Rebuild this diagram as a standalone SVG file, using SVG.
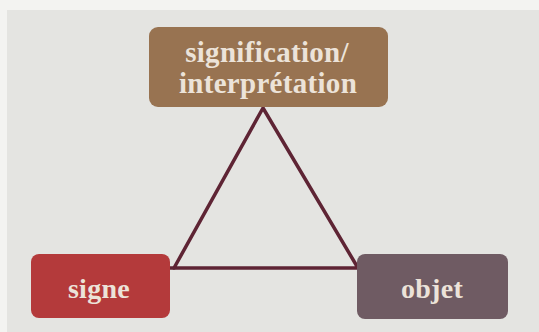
<svg xmlns="http://www.w3.org/2000/svg" width="539" height="332" viewBox="0 0 539 332">
<style>
.lbl{font-family:"Liberation Serif","DejaVu Serif",serif;font-weight:bold;font-size:28px;fill:#ece3d9;text-anchor:middle;letter-spacing:0.3px}
.big{font-size:29px}
.edge{stroke:#5e2434;stroke-width:3.5;fill:none;stroke-linecap:round;stroke-linejoin:round}
</style>
<rect width="539" height="332" fill="#f3f3f1"/>
<rect x="7" y="10" width="532" height="322" fill="#e4e4e1"/>
<g id="connectors">
<polygon class="edge" points="263,108 174,268 358,268"/>
<line class="edge" x1="170" y1="268" x2="174" y2="268"/>
</g>
<g id="node-signification">
<rect x="149" y="27" width="239" height="80" rx="9" fill="#987351"/>
<text class="lbl big" x="267" y="62">signification/</text>
<text class="lbl big" x="268" y="93">interprétation</text>
</g>
<g id="node-signe">
<rect x="31" y="254" width="139" height="64" rx="8" fill="#b43a3b"/>
<text class="lbl" x="99" y="298">signe</text>
</g>
<g id="node-objet">
<rect x="357" y="254" width="151" height="65" rx="8" fill="#6f5b63"/>
<text class="lbl" x="432" y="298">objet</text>
</g>
</svg>
